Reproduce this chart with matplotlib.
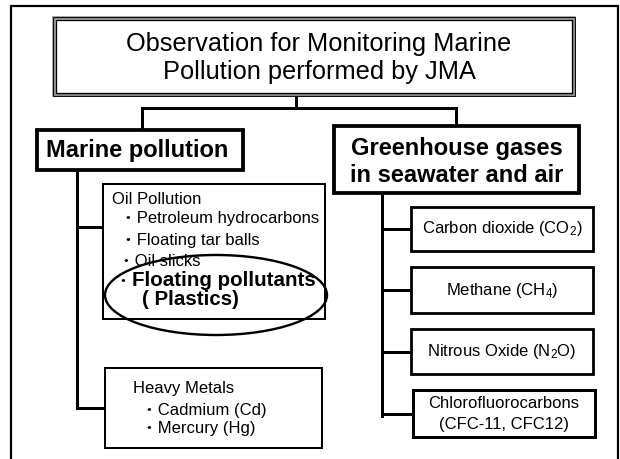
import matplotlib
matplotlib.use("Agg")
import matplotlib.pyplot as plt
from matplotlib.patches import Rectangle, Ellipse

plt.rcParams['font.family'] = ['Liberation Sans', 'Noto Sans CJK JP', 'DejaVu Sans']
plt.rcParams['mathtext.fontset'] = 'custom'
plt.rcParams['mathtext.rm'] = 'Liberation Sans'
plt.rcParams['mathtext.it'] = 'Liberation Sans:italic'
plt.rcParams['mathtext.bf'] = 'Liberation Sans:bold'

# ---- content ----
title_lines = ["Observation for Monitoring Marine", "Pollution performed by JMA"]
marine_label = "Marine pollution"
ghg_lines = ["Greenhouse gases", "in seawater and air"]
oil_header = "Oil Pollution"
oil_items = ["Petroleum hydrocarbons", "Floating tar balls", "Oil slicks"]
oil_bold_items = ["Floating pollutants", "( Plastics)"]
metal_header = "Heavy Metals"
metal_items = ["Cadmium (Cd)", "Mercury (Hg)"]
gas_labels = [["Carbon dioxide (CO$_{\\mathrm{2}}$)"],
              ["Methane (CH$_{\\mathrm{4}}$)"],
              ["Nitrous Oxide (N$_{\\mathrm{2}}$O)"],
              ["Chlorofluorocarbons", "(CFC-11, CFC12)"]]
BULLET = "\u30fb"

# ---- layout (pixel units) ----
W, H = 620, 459
PT = 0.72  # points per pixel at dpi 100

fig = plt.figure(figsize=(W / 100, H / 100), dpi=100)
ax = fig.add_axes([0, 0, 1, 1])
ax.set_xlim(0, W)
ax.set_ylim(H, 0)
ax.axis('off')

def line(xs, ys, px=3.0, color='black', z=1):
    ax.plot(xs, ys, color=color, lw=px * PT, solid_capstyle='projecting',
            solid_joinstyle='miter', zorder=z)

def box(x0, y0, x1, y1, px=2.0, color='black', z=3, fill=True):
    ax.add_patch(Rectangle((x0, y0), x1 - x0, y1 - y0, lw=px * PT,
                           edgecolor=color, facecolor='white' if fill else 'none',
                           joinstyle='miter', zorder=z))

# outer frame (open at bottom)
line([11, 11, 618, 618], [H + 5, 5.5, 5.5, H + 5], px=2.2)

# title box with double border
box(53.7, 17.7, 574.3, 95.3, px=3.5, color='#8a8a8a', z=3)
box(53.2, 17.2, 574.8, 95.8, px=0.9, color='black', z=4, fill=False)
box(56.3, 20.3, 571.7, 92.7, px=1.3, color='black', z=4, fill=False)
for i, t in enumerate(title_lines):
    ax.text(319, 43.5 + 29 * i, t, fontsize=18.3, ha='center', va='center', zorder=5)

# tree connectors
line([296, 296], [97, 108])
line([142, 142, 456, 456], [130, 108, 108, 126])
line([77, 77, 105], [170, 408, 408])
line([77, 103], [227, 227])
gas_boxes = [(411, 207, 593, 251), (411, 267, 593, 313),
             (411, 329, 593, 374), (413, 390, 595, 437)]
line([382, 382], [193, 416])
for (x0, y0, x1, y1) in gas_boxes:
    yc = (y0 + y1) / 2
    line([382, x0], [yc, yc])

# main category boxes
box(37, 130, 243, 170, px=3.8)
ax.text(137, 150.5, marine_label, fontsize=17, fontweight='bold',
        ha='center', va='center', zorder=5)
box(334, 126, 579, 193, px=3.8)
for i, t in enumerate(ghg_lines):
    ax.text(457, 148 + 27.5 * i, t, fontsize=17, fontweight='bold',
            ha='center', va='center', zorder=5)

# oil pollution box
box(103, 184, 325, 319, px=2.0)
ax.text(112, 200, oil_header, fontsize=12, ha='left', va='center', zorder=5)
oil_y = [219, 240, 262]
oil_x = [120, 120, 118]
for t, y, x in zip(oil_items, oil_y, oil_x):
    ax.text(x, y, BULLET + t, fontsize=12, ha='left', va='center', zorder=5)
ax.text(114, 281, BULLET, fontsize=12, ha='left', va='center', zorder=5)
ax.text(132, 281, oil_bold_items[0], fontsize=14.8, fontweight='bold',
        ha='left', va='center', zorder=5)
ax.text(142, 299.5, oil_bold_items[1], fontsize=14.8, fontweight='bold',
        ha='left', va='center', zorder=5)
ax.add_patch(Ellipse((216, 295), 222, 80, lw=2.4 * PT, edgecolor='black',
                     facecolor='none', zorder=6))

# heavy metals box
box(105, 368, 322, 448, px=2.0)
ax.text(133, 389, metal_header, fontsize=12, ha='left', va='center', zorder=5)
for i, t in enumerate(metal_items):
    ax.text(141, 410 + 18.5 * i, BULLET + t, fontsize=12, ha='left',
            va='center', zorder=5)

# gas boxes
for (x0, y0, x1, y1), labels in zip(gas_boxes, gas_labels):
    yc = (y0 + y1) / 2
    n = len(labels)
    for i, t in enumerate(labels):
        ax.text((x0 + x1) / 2, yc + (i - (n - 1) / 2) * 21, t, fontsize=12,
                ha='center', va='center', zorder=5)
    box(x0, y0, x1, y1, px=2.8 if n == 1 else 3.0)

fig.savefig("out.png", dpi=100)
